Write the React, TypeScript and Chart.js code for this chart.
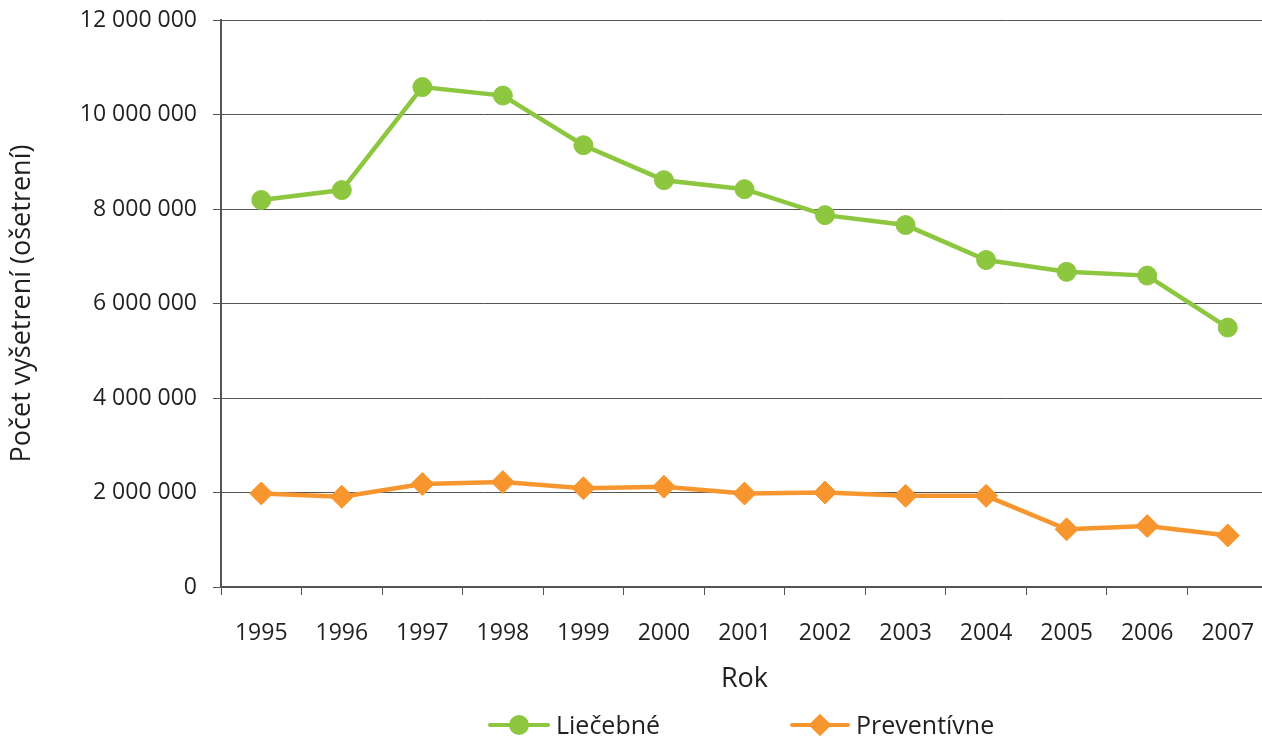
import React, { useEffect, useRef } from "react";
import { Chart, registerables } from "chart.js";

Chart.register(...registerables);

const years = ["1995", "1996", "1997", "1998", "1999", "2000", "2001", "2002", "2003", "2004", "2005", "2006", "2007"];
const liecebne = [8190000, 8400000, 10580000, 10400000, 9350000, 8610000, 8420000, 7870000, 7660000, 6920000, 6670000, 6590000, 5490000];
const preventivne = [1980000, 1910000, 2180000, 2220000, 2090000, 2120000, 1980000, 2000000, 1930000, 1930000, 1220000, 1290000, 1090000];
const seriesNames = ["Liečebné", "Preventívne"];
const yTitle = "Počet vyšetrení (ošetrení)";
const xTitle = "Rok";

const GREEN = "#8dc63f";
const ORANGE = "#f7962f";
const TEXT = "#231f20";
const GRID = "#555555";
const FONT = "'Open Sans', 'DejaVu Sans', sans-serif";

const fmt = (v: number) => String(v).replace(/\B(?=(\d{3})+(?!\d))/g, " ");

export default function App() {
  const ref = useRef<HTMLCanvasElement | null>(null);

  useEffect(() => {
    if (!ref.current) return;
    const chart = new Chart(ref.current, {
      type: "line",
      data: {
        labels: years,
        datasets: [
          {
            label: seriesNames[0],
            data: liecebne,
            borderColor: GREEN,
            backgroundColor: GREEN,
            borderWidth: 4.5,
            pointStyle: "circle",
            pointRadius: 9.5,
            pointBorderWidth: 1,
            pointBorderColor: GREEN,
            pointBackgroundColor: GREEN,
            tension: 0,
          },
          {
            label: seriesNames[1],
            data: preventivne,
            borderColor: ORANGE,
            backgroundColor: ORANGE,
            borderWidth: 4.5,
            pointStyle: "rectRot",
            pointRadius: 11.5,
            pointBorderWidth: 1,
            pointBorderColor: ORANGE,
            pointBackgroundColor: ORANGE,
            tension: 0,
          },
        ],
      },
      options: {
        responsive: false,
        animation: false,
        layout: { autoPadding: false, padding: { top: 20, bottom: 40, left: 0, right: 0 } },
        plugins: { legend: { display: false }, tooltip: { enabled: false } },
        scales: {
          x: {
            offset: true,
            grid: {
              offset: true,
              drawOnChartArea: false,
              drawTicks: true,
              tickLength: 8,
              color: GRID,
              lineWidth: 1,
            },
            border: { display: true, color: GRID, width: 2 },
            ticks: {
              color: TEXT,
              font: { family: FONT, size: 23 },
              padding: 25,
              maxRotation: 0,
              autoSkip: false,
            },
            title: {
              display: true,
              text: xTitle,
              color: TEXT,
              font: { family: FONT, size: 27 },
              padding: { top: 0, bottom: 4 },
            },
            afterFit: (scale: any) => {
              scale.height = 113;
              scale.paddingLeft = 0;
              scale.paddingRight = 0;
            },
          },
          y: {
            min: 0,
            max: 12000000,
            grid: {
              color: GRID,
              lineWidth: 1,
              drawTicks: true,
              tickLength: 8,
            },
            border: { display: true, color: GRID, width: 2 },
            ticks: {
              stepSize: 2000000,
              color: TEXT,
              font: { family: FONT, size: 23 },
              padding: 16,
              callback: (v: any) => fmt(Number(v)),
            },
            title: {
              display: true,
              text: yTitle,
              color: TEXT,
              font: { family: FONT, size: 27 },
              padding: { top: 6, bottom: 0 },
            },
            afterFit: (scale: any) => {
              scale.width = 221;
              scale.paddingTop = 0;
              scale.paddingBottom = 0;
            },
          },
        },
      },
    });
    return () => chart.destroy();
  }, []);

  const legendText: React.CSSProperties = {
    position: "absolute",
    top: 708,
    fontFamily: FONT,
    fontSize: 25,
    lineHeight: "32px",
    color: TEXT,
    whiteSpace: "nowrap",
  };

  return (
    <div
      style={{
        position: "fixed",
        left: 0,
        top: 0,
        width: 1262,
        height: 740,
        overflow: "hidden",
        background: "#fff",
      }}
    >
      <canvas ref={ref} width={1268} height={740} style={{ display: "block", width: 1268, height: 740 }} />
      {/* legend: Liečebné */}
      <div style={{ position: "absolute", left: 488, top: 723, width: 62, height: 4, background: GREEN, borderRadius: 2 }} />
      <div style={{ position: "absolute", left: 509, top: 715, width: 20, height: 20, background: GREEN, borderRadius: "50%" }} />
      <div style={{ ...legendText, left: 556 }}>{seriesNames[0]}</div>
      {/* legend: Preventívne */}
      <div style={{ position: "absolute", left: 790, top: 723, width: 60, height: 4, background: ORANGE, borderRadius: 2 }} />
      <div
        style={{
          position: "absolute",
          left: 812,
          top: 717,
          width: 16,
          height: 16,
          background: ORANGE,
          transform: "rotate(45deg)",
        }}
      />
      <div style={{ ...legendText, left: 856 }}>{seriesNames[1]}</div>
    </div>
  );
}
